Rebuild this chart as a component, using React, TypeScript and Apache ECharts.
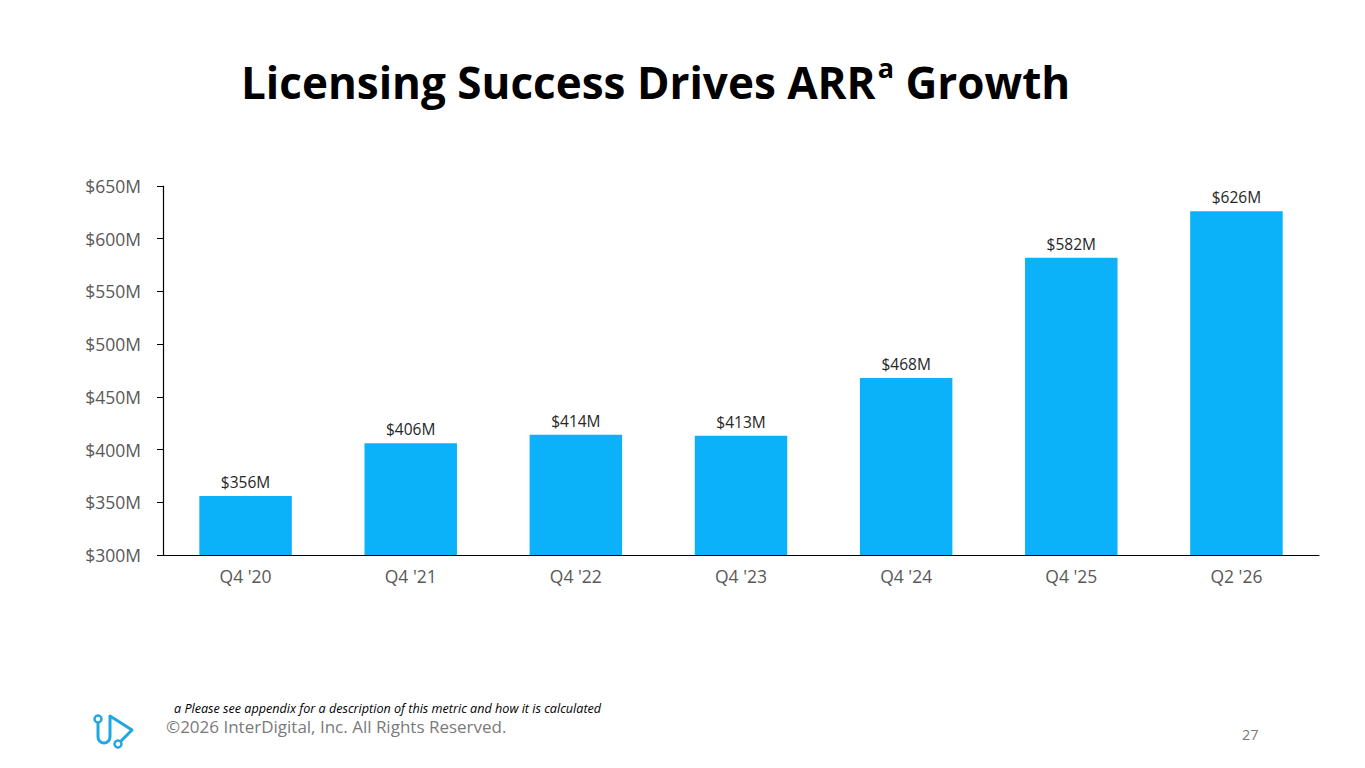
import React, { useEffect, useRef } from 'react';
import * as echarts from 'echarts';

const categories = ["Q4 '20", "Q4 '21", "Q4 '22", "Q4 '23", "Q4 '24", "Q4 '25", "Q2 '26"];
const arrValues = [356, 406, 414, 413, 468, 582, 626];
const yMin = 300;
const yMax = 650;
const yStep = 50;

const titleText = 'Licensing Success Drives ARR';
const footnote = 'a Please see appendix for a description of this metric and how it is calculated';
const copyright = '©2026 InterDigital, Inc. All Rights Reserved.';
const pageNumber = '27';

const BAR_COLOR = '#0BB2F9';
const FONT = '"Open Sans", Lato, sans-serif';

// logo outline (U + play arrow), drawn as a registered path
echarts.graphic.registerShape(
  'idLogo',
  echarts.graphic.extendPath('M6 10 L6 24 A6 6 0 0 0 18 24 L18 3 L40 17 L29 28', {}) as any
);

export default function App() {
  const chartRef = useRef<HTMLDivElement>(null);

  useEffect(() => {
    if (!chartRef.current) return;
    const chart = echarts.init(chartRef.current, null, { renderer: 'svg' });

    chart.setOption({
      animation: false,
      backgroundColor: '#ffffff',
      title: {
        text: `{t|${titleText}}{s|a}{t| Growth}`,
        left: 236,
        top: 49,
        textStyle: {
          rich: {
            t: { fontFamily: FONT, fontWeight: 'bold', fontSize: 44, color: '#000000', lineHeight: 56 },
            s: { fontFamily: FONT, fontWeight: 'bold', fontSize: 27, color: '#000000', verticalAlign: 'top', lineHeight: 56, padding: [0, 0, 20, 2] },
          },
        },
      },
      grid: {
        left: 163,
        right: 46,
        top: 186,
        bottom: 213,
      },
      xAxis: {
        type: 'category',
        data: categories,
        axisLine: { lineStyle: { color: '#000000', width: 1.2 } },
        axisTick: { show: false },
        axisLabel: { color: '#595959', fontFamily: FONT, fontSize: 17.5, margin: 12 },
      },
      yAxis: {
        type: 'value',
        min: yMin,
        max: yMax,
        interval: yStep,
        splitLine: { show: false },
        axisLine: { show: true, lineStyle: { color: '#000000', width: 1.2 } },
        axisTick: { show: true, length: 6, lineStyle: { color: '#000000' } },
        axisLabel: {
          color: '#595959',
          fontFamily: FONT,
          fontSize: 17.5,
          margin: 22,
          formatter: (v: number) => `$${v}M`,
        },
      },
      series: [
        {
          type: 'bar',
          data: arrValues,
          barWidth: '56%',
          itemStyle: { color: BAR_COLOR },
          label: {
            show: true,
            position: 'top',
            distance: 6,
            color: '#262626',
            fontFamily: FONT,
            fontSize: 15.5,
            formatter: (p: any) => `$${p.value}M`,
          },
        },
      ],
      graphic: [
        {
          type: 'text',
          left: 174,
          top: 702,
          style: { text: footnote, fontFamily: FONT, fontStyle: 'italic', fontSize: 12.6, fill: '#000000' },
        },
        {
          type: 'text',
          left: 166,
          top: 718,
          style: { text: copyright, fontFamily: FONT, fontSize: 17, fill: '#7a7a7a' },
        },
        {
          type: 'text',
          left: 1242,
          top: 727,
          style: { text: pageNumber, fontFamily: FONT, fontSize: 14.5, fill: '#7a7a7a' },
        },
        {
          type: 'idLogo',
          x: 92,
          y: 713,
          style: { stroke: '#1FA7E1', fill: 'none', lineWidth: 3, lineCap: 'round', lineJoin: 'round' },
        },
        {
          type: 'circle',
          shape: { cx: 98, cy: 719, r: 3.5 },
          style: { stroke: '#1FA7E1', fill: 'none', lineWidth: 2.5 },
        },
        {
          type: 'circle',
          shape: { cx: 118, cy: 744, r: 3.5 },
          style: { stroke: '#1FA7E1', fill: 'none', lineWidth: 2.5 },
        },
      ],
    });

    return () => {
      chart.dispose();
    };
  }, []);

  return (
    <div style={{ position: 'fixed', left: 0, top: 0, width: 1365, height: 768, background: '#fff' }}>
      <div ref={chartRef} style={{ width: '100%', height: '100%' }} />
    </div>
  );
}
